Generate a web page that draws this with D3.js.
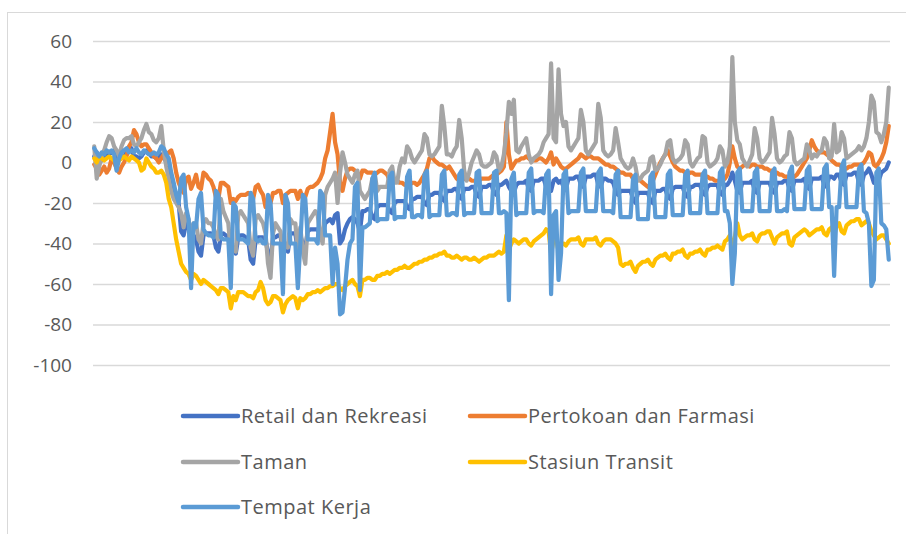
<!DOCTYPE html>
<html>
<head>
<meta charset="utf-8">
<script src="https://cdn.jsdelivr.net/npm/d3@7"></script>
<style>
  body { margin: 0; background: #ffffff; }
  svg { display: block; font-family: "Open Sans", "Noto Sans", sans-serif; }
</style>
</head>
<body>
<svg id="chart" width="906" height="534"></svg>
<script>
// daily values, 15 Feb 2020 (Saturday) to 31 Dec 2020, one row per week (Sat..Fri)
const days = d3.timeDay.range(new Date(2020, 1, 15), new Date(2021, 0, 1));

const retail = [
  3, 5, 2, 1, 2, 3, 4,
  5, 6, 1, 2, 3, 3, 5,
  6, 7, 3, 3, 2, 3, 5,
  6, 5, 3, 3, 2, 2, 4,
  3, 0, -4, -8, -12, -16, -20,
  -34, -36, -30, -32, -38, -36, -38,
  -44, -46, -36, -35, -35, -35, -36,
  -42, -44, -36, -35, -36, -37, -45,
  -42, -45, -37, -36, -36, -37, -38,
  -48, -50, -38, -37, -37, -37, -38,
  -45, -48, -37, -37, -36, -36, -45,
  -42, -44, -35, -35, -35, -44, -36,
  -40, -42, -34, -33, -33, -33, -33,
  -36, -36, -30, -29, -28, -30, -26,
  -25, -40, -38, -33, -30, -28, -27,
  -28, -30, -34, -24, -24, -23, -23,
  -27, -28, -22, -21, -21, -21, -21,
  -24, -25, -20, -19, -19, -19, -19,
  -22, -23, -18, -18, -17, -17, -17,
  -20, -21, -16, -16, -15, -15, -15,
  -18, -19, -14, -14, -14, -13, -13,
  -17, -18, -13, -13, -13, -12, -12,
  -16, -17, -12, -12, -12, -11, -11,
  -15, -16, -11, -11, -10, -9, -12,
  -14, -15, -11, -10, -10, -10, -9,
  -13, -14, -9, -9, -9, -8, -8,
  -12, -13, -14, -9, -8, -10, -9,
  -12, -13, -8, -8, -8, -7, -7,
  -11, -12, -7, -7, -7, -6, -6,
  -11, -12, -8, -8, -9, -9, -10,
  -14, -16, -14, -14, -14, -14, -14,
  -18, -20, -15, -15, -15, -15, -15,
  -19, -20, -14, -14, -14, -13, -13,
  -17, -18, -13, -12, -12, -12, -12,
  -16, -17, -12, -12, -11, -11, -11,
  -15, -16, -12, -11, -11, -11, -11,
  -15, -16, -11, -11, -9, -5, -9,
  -14, -15, -10, -10, -10, -10, -9,
  -14, -15, -10, -10, -10, -10, -10,
  -14, -15, -10, -10, -10, -9, -9,
  -13, -14, -9, -9, -9, -9, -8,
  -12, -13, -8, -8, -8, -8, -7,
  -11, -12, -7, -7, -8, -6, -6,
  -10, -11, -6, -6, -6, -5, -5,
  -10, -11, -6, -5, -3, -6, -10,
  -8, -9, -5, -4, -3, 0
];

const grocery = [
  -1, -3, -6, -4, -2, -5, -3,
  2, 0, -3, -5, -2, 0, 3,
  8, 10, 16, 14, 10, 8, 9,
  9, 7, 5, 3, 2, 0, 2,
  4, 3, 5, 6, 2, -5, -10,
  -13, -15, -8, -7, -13, -10, -6,
  -12, -13, -5, -6, -8, -9, -12,
  -17, -18, -10, -10, -11, -12, -20,
  -18, -19, -17, -16, -16, -16, -15,
  -16, -18, -12, -11, -14, -16, -22,
  -22, -20, -15, -15, -14, -14, -20,
  -16, -15, -14, -14, -14, -18, -14,
  -18, -17, -13, -12, -12, -11, -10,
  -8, -5, 2, 6, 15, 24, 10,
  4, -10, -14, -8, -4, -3, -3,
  -4, -5, -8, -4, -4, -5, -5,
  -5, -6, -5, -4, -4, -5, -6,
  -9, -10, -9, -9, -10, -10, -11,
  -11, -11, -10, -10, -11, -10, -8,
  -6, -3, 2, 3, 1, 0, -1,
  -1, -2, -3, -2, -4, -6, -8,
  -9, -9, -8, -8, -8, -9, -9,
  -9, -9, -8, -8, -8, -8, -7,
  -6, -6, -5, -4, -2, 20, 4,
  -3, -1, 1, 1, 2, 2, 3,
  2, 1, 1, 1, 2, 2, 1,
  0, 2, 5, -1, 2, 0, -2,
  -3, -3, -2, -1, 0, 1, 2,
  4, 3, 2, 3, 3, 2, 2,
  2, 1, 0, -1, -1, -2, -2,
  -3, -4, -5, -5, -6, -6, -6,
  -8, -10, -8, -9, -10, -11, -12,
  -11, -9, -6, -3, 0, 2, 4,
  6, 3, 0, -2, -3, -4, -4,
  -5, -6, -5, -5, -6, -6, -6,
  -6, -7, -7, -8, -8, -9, -9,
  -9, -9, -8, -6, 0, 8, 2,
  -2, -3, -2, -1, -1, -2, -1,
  -1, -2, -2, -2, -3, -3, -4,
  -4, -5, -5, -6, -6, -7, -7,
  -8, -8, -7, -6, -4, -2, 0,
  2, 6, 11, 8, 6, 5, 5,
  5, 4, 3, 1, 0, -1, -1,
  -2, -3, -3, -2, -2, -1, -1,
  -1, -1, 0, 2, 5, 4, -1,
  -2, 0, 2, 5, 10, 18
];

const parks = [
  8, -8, -2, 3, 6, 10, 13,
  12, 8, 6, 3, 8, 11, 12,
  12, 13, 9, 8, 10, 12, 16,
  19, 15, 14, 11, 10, 12, 18,
  6, -2, -8, -14, -18, -20, -22,
  -25, -32, -25, -28, -38, -30, -30,
  -38, -40, -30, -28, -30, -30, -32,
  -36, -38, -18, -24, -27, -30, -44,
  -42, -44, -26, -24, -26, -28, -30,
  -42, -46, -28, -26, -28, -30, -35,
  -50, -57, -35, -30, -32, -34, -45,
  -40, -42, -28, -30, -30, -44, -32,
  -44, -50, -30, -28, -26, -24, -26,
  -36, -40, -16, -12, -10, -8, -5,
  -20, -5, 5, 0, -6, -8, -10,
  -6, -4, -14, -16, -18, -16, -14,
  -8, -6, -14, -12, -12, -12, -12,
  -4, -2, -10, -10, -2, 2, 0,
  8, 6, 2, 0, 2, 4, 6,
  14, 12, 4, 3, 4, 6, 8,
  28, 18, 4, 4, 3, 6, 8,
  21, 12, -4, -9, -5, 0, 3,
  6, 4, -1, -2, -2, -1, 0,
  5, 3, -4, -2, 4, 15, 30,
  24, 31, 6, 5, 8, 10, 12,
  4, 0, 2, 3, 4, 6, 10,
  12, 14, 49, 12, 10, 46, 24,
  18, 20, 8, 6, 8, 10, 12,
  26, 20, 6, 4, 6, 8, 10,
  29, 22, 6, 4, 3, 4, 6,
  17, 10, 2, 0, -2, -3, -2,
  2, -2, -9, -8, -6, -5, -4,
  2, 3, -4, -3, -1, 2, 4,
  10, 11, 2, 0, 1, 2, 4,
  11, 9, 0, -2, 0, 2, 3,
  13, 12, 0, -2, -1, 0, 2,
  8, 6, -2, 0, 8, 52, 20,
  11, 9, 2, 0, -2, 1, 4,
  17, 12, 2, 0, 1, 3, 5,
  22, 14, 2, 0, 1, 3, 4,
  15, 12, 1, -1, 0, 1, 2,
  9, 6, 2, 4, 3, 5, 6,
  12, 10, 2, 3, 19, 5, 6,
  15, 12, 2, 3, 4, 5, 6,
  8, 6, 8, 12, 20, 33, 30,
  15, 14, 10, 14, 20, 37
];

const transit = [
  2, 0, 3, 2, 1, 2, 3,
  2, 1, 0, 1, 2, 3, 2,
  1, 3, 2, 1, 0, -4, -3,
  2, 0, -2, -3, -5, -5, -4,
  -6, -10, -18, -22, -30, -38, -44,
  -50, -52, -54, -55, -58, -55, -56,
  -58, -60, -58, -59, -60, -61, -62,
  -63, -65, -62, -62, -63, -64, -72,
  -66, -68, -64, -64, -64, -65, -66,
  -66, -67, -64, -63, -59, -62, -68,
  -70, -69, -66, -66, -67, -68, -74,
  -70, -68, -67, -66, -67, -72, -67,
  -68, -67, -65, -65, -64, -64, -63,
  -64, -63, -62, -62, -61, -61, -60,
  -60, -62, -63, -61, -60, -59, -58,
  -60, -61, -66, -58, -58, -57, -57,
  -58, -58, -56, -56, -55, -55, -54,
  -55, -54, -53, -53, -52, -52, -51,
  -52, -52, -51, -50, -50, -49, -49,
  -48, -48, -47, -47, -46, -46, -45,
  -45, -44, -46, -46, -47, -47, -46,
  -47, -48, -47, -47, -48, -48, -47,
  -48, -49, -48, -47, -47, -46, -46,
  -46, -45, -44, -45, -44, -36, -43,
  -40, -38, -39, -40, -39, -38, -38,
  -40, -41, -39, -38, -37, -36, -35,
  -33, -34, -45, -38, -37, -44, -40,
  -40, -41, -39, -38, -38, -38, -37,
  -40, -41, -38, -38, -38, -38, -37,
  -40, -41, -39, -38, -38, -38, -39,
  -40, -42, -50, -51, -50, -50, -49,
  -52, -54, -51, -50, -49, -49, -48,
  -50, -51, -48, -47, -46, -46, -45,
  -47, -48, -45, -45, -44, -44, -43,
  -46, -47, -45, -45, -44, -44, -43,
  -45, -46, -43, -43, -42, -42, -41,
  -42, -43, -39, -38, -36, -43, -37,
  -30, -36, -38, -37, -36, -36, -35,
  -38, -39, -36, -35, -35, -34, -34,
  -37, -40, -37, -36, -35, -35, -34,
  -40, -41, -37, -36, -35, -34, -33,
  -34, -36, -35, -34, -33, -33, -32,
  -35, -36, -33, -32, -36, -31, -30,
  -34, -35, -31, -30, -29, -29, -28,
  -28, -31, -30, -29, -30, -34, -36,
  -38, -37, -36, -36, -38, -40
];

const workplace = [
  7, 5, 3, 5, 4, 6, 5,
  6, 4, -4, 2, 5, 6, 7,
  5, 6, 5, 7, 5, 4, 6,
  5, 4, 4, 5, 4, 5, 8,
  7, 4, 2, -5, -10, -16, -20,
  -8, -6, -22, -28, -62, -30, -32,
  -18, -15, -33, -35, -36, -36, -37,
  -14, -16, -37, -38, -38, -38, -62,
  -20, -22, -38, -38, -38, -39, -40,
  -15, -18, -38, -39, -38, -40, -40,
  -16, -20, -40, -40, -40, -40, -65,
  -16, -20, -40, -40, -40, -62, -40,
  -16, -18, -38, -38, -38, -38, -40,
  -14, -16, -36, -36, -36, -60, -42,
  -50, -75, -74, -62, -48, -40, -38,
  -12, -10, -63, -32, -32, -31, -30,
  -8, -5, -29, -28, -28, -28, -28,
  -7, -5, -28, -27, -27, -27, -27,
  -7, -4, -27, -27, -26, -26, -27,
  -6, -4, -27, -26, -26, -26, -26,
  -6, -4, -26, -26, -25, -25, -26,
  -6, -4, -26, -25, -25, -25, -25,
  -5, -4, -25, -25, -25, -25, -25,
  -5, -4, -25, -25, -24, -25, -68,
  -8, -5, -26, -25, -25, -25, -25,
  -5, -3, -25, -24, -24, -24, -25,
  -6, -4, -65, -26, -24, -58, -45,
  -6, -4, -25, -24, -24, -24, -24,
  -5, -3, -24, -24, -24, -24, -24,
  -5, -3, -24, -24, -24, -24, -25,
  -6, -4, -27, -27, -27, -27, -27,
  -8, -6, -28, -28, -28, -28, -28,
  -7, -5, -27, -27, -27, -27, -27,
  -6, -4, -26, -26, -26, -26, -26,
  -6, -4, -25, -25, -25, -25, -25,
  -6, -4, -25, -25, -25, -25, -25,
  -5, -3, -24, -24, -30, -60, -45,
  -5, -3, -24, -24, -24, -24, -24,
  -5, -3, -24, -24, -24, -24, -24,
  -5, -3, -24, -24, -24, -23, -24,
  -5, -2, -23, -23, -23, -23, -23,
  -4, -2, -23, -23, -23, -23, -23,
  -3, -1, -22, -22, -56, -22, -22,
  -2, 1, -22, -22, -22, -22, -22,
  -3, -1, -24, -25, -30, -61, -58,
  -5, -3, -30, -31, -33, -48
];

const seriesNames = ["Retail dan Rekreasi", "Pertokoan dan Farmasi", "Taman", "Stasiun Transit", "Tempat Kerja"];
const seriesColors = ["#4472C4", "#ED7D31", "#A5A5A5", "#FFC000", "#5B9BD5"];
const seriesValues = [retail, grocery, parks, transit, workplace];
const yTicks = [-100, -80, -60, -40, -20, 0, 20, 40, 60];

const svg = d3.select("#chart");

// chart frame
svg.append("rect")
  .attr("x", 7.5)
  .attr("y", 12.5)
  .attr("width", 1000)
  .attr("height", 600)
  .attr("fill", "none")
  .attr("stroke", "#D9D9D9")
  .attr("stroke-width", 1);

const plot = { left: 93, right: 890, top: 41, bottom: 365 };

const x = d3.scaleBand()
  .domain(days.map((d, i) => i))
  .range([plot.left, plot.right])
  .padding(0);

const y = d3.scaleLinear()
  .domain([-100, 60])
  .range([plot.bottom, plot.top]);

const yAxis = svg.append("g")
  .attr("transform", `translate(${plot.left}, 0)`)
  .call(d3.axisLeft(y)
    .tickValues(yTicks)
    .tickSize(-(plot.right - plot.left))
    .tickPadding(21)
    .tickFormat(d => String(d)));

yAxis.select(".domain").remove();
yAxis.selectAll("line")
  .attr("stroke", "#D9D9D9")
  .attr("stroke-width", 1.3);
yAxis.selectAll("text")
  .attr("fill", "#595959")
  .style("font-size", "19px")
  .style("font-family", "'Open Sans', 'Noto Sans', sans-serif");

const line = d3.line()
  .x((d, i) => x(i) + x.bandwidth() / 2)
  .y(d => y(d));

seriesValues.forEach((values, k) => {
  svg.append("path")
    .datum(values)
    .attr("d", line)
    .attr("fill", "none")
    .attr("stroke", seriesColors[k])
    .attr("stroke-width", 4.2)
    .attr("stroke-linejoin", "round")
    .attr("stroke-linecap", "round");
});

// legend, two columns
const legendCols = [183, 470];
const legendRows = [416, 462, 507];

const legend = svg.append("g");

seriesNames.forEach((name, k) => {
  const lx = legendCols[k % 2];
  const ly = legendRows[Math.floor(k / 2)];

  legend.append("line")
    .attr("x1", lx)
    .attr("x2", lx + 55)
    .attr("y1", ly)
    .attr("y2", ly)
    .attr("stroke", seriesColors[k])
    .attr("stroke-width", 4.5)
    .attr("stroke-linecap", "round");

  legend.append("text")
    .attr("x", lx + 58)
    .attr("y", ly)
    .attr("dy", "0.35em")
    .attr("fill", "#595959")
    .style("font-size", "20px")
    .style("letter-spacing", "0.5px")
    .text(name);
});
</script>
</body>
</html>
